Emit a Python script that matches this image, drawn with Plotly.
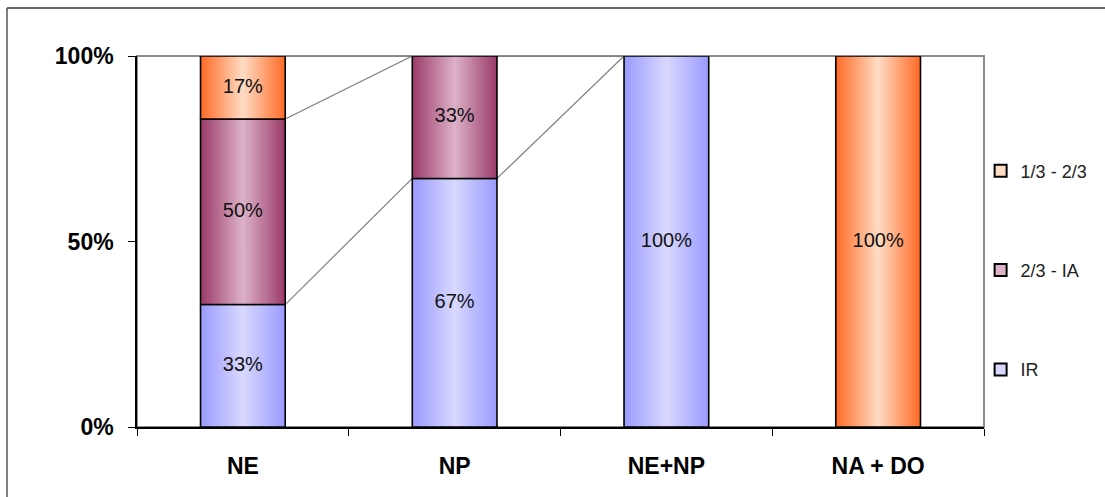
import plotly.graph_objects as go

# Stacked 100% columns by group
categories = ["NE", "NP", "NE+NP", "NA + DO"]
ir_values = [33, 67, 100, 0]
ia_values = [50, 33, 0, 0]
third_values = [17, 0, 0, 100]
y_tick_values = [0, 50, 100]
y_tick_labels = ["0%", "50%", "100%"]

FONT = "Liberation Sans, Arial, sans-serif"
BAR_W = 0.40

# edge colour, centre colour for each series
palette = {
    "IR": ("#9a9aff", "#d8d8ff"),
    "2/3 - IA": ("#9a3a68", "#ddb2c8"),
    "1/3 - 2/3": ("#ff6a26", "#ffdcc4"),
}
stack = [("IR", ir_values), ("2/3 - IA", ia_values), ("1/3 - 2/3", third_values)]

fig = go.Figure()

# series lines joining the cumulative tops of each series between neighbouring columns
cum = [0] * len(categories)
tops = []
for name, vals in stack:
    cum = [c + v for c, v in zip(cum, vals)]
    tops.append(list(cum))
for top in tops:
    for i in range(2):
        fig.add_trace(go.Scatter(
            x=[i + BAR_W / 2, i + 1 - BAR_W / 2], y=[top[i], top[i + 1]],
            mode="lines", line=dict(color="#7f7f7f", width=1.2),
            showlegend=False, hoverinfo="skip"))

# gradient-filled column segments
base = [0] * len(categories)
for name, vals in stack:
    edge, mid = palette[name]
    for i, v in enumerate(vals):
        if v <= 0:
            continue
        b, t = base[i], base[i] + v
        x0, x1 = i - BAR_W / 2, i + BAR_W / 2
        fig.add_trace(go.Scatter(
            x=[x0, x1, x1, x0, x0], y=[b, b, t, t, b],
            mode="lines", fill="toself",
            fillgradient=dict(type="horizontal",
                              colorscale=[[0, edge], [0.5, mid], [1, edge]]),
            line=dict(color="#000000", width=1.6),
            showlegend=False, hoverinfo="skip"))
        fig.add_trace(go.Scatter(
            x=[i], y=[b + v / 2], mode="text", text=[f"{v}%"],
            textfont=dict(family=FONT, size=20, color="#111111"),
            showlegend=False, hoverinfo="skip"))
    base = [b + v for b, v in zip(base, vals)]

# legend entries (top to bottom)
for name in ["1/3 - 2/3", "2/3 - IA", "IR"]:
    edge, mid = palette[name]
    fig.add_trace(go.Scatter(
        x=[None], y=[None], mode="markers", name=name, legendgroup=name,
        marker=dict(symbol="square", size=9, color=mid,
                    line=dict(color="#000000", width=1.6))))

# plot-area border and outer chart frame
fig.add_shape(type="rect", xref="paper", yref="paper", x0=0, x1=1, y0=0, y1=1,
              line=dict(color="#8c8c8c", width=2), layer="below")
fig.add_shape(type="line", xref="paper", yref="paper",
              x0=-0.1535, x1=1.2, y0=1.1294, y1=1.1294,
              line=dict(color="#333333", width=1.5))
fig.add_shape(type="line", xref="paper", yref="paper",
              x0=-0.1535, x1=-0.1535, y0=1.1294, y1=-0.2,
              line=dict(color="#555555", width=1.5))

fig.update_layout(
    width=1105, height=497,
    margin=dict(l=137, r=121, t=56, b=70, autoexpand=False),
    paper_bgcolor="white", plot_bgcolor="white",
    font=dict(family=FONT, color="#000000"),
    showlegend=True,
    legend=dict(x=0.996, xanchor="left", y=0.74, yanchor="top",
                traceorder="grouped", tracegroupgap=73,
                itemwidth=30,
                font=dict(family=FONT, size=18, color="#222222"),
                itemsizing="constant", bgcolor="rgba(0,0,0,0)"),
    xaxis=dict(range=[-0.5, 3.5], tickvals=list(range(len(categories))),
               ticktext=categories, showgrid=False, zeroline=False,
               showline=True, linecolor="#000000", linewidth=1.5,
               ticks="", ticklabelstandoff=18,
               minor=dict(tickvals=[-0.5, 0.5, 1.5, 2.5, 3.5], ticks="outside",
                          ticklen=7, tickcolor="#000000", tickwidth=1.2),
               tickfont=dict(family=FONT, size=23, color="#000000", weight="bold")),
    yaxis=dict(range=[0, 100], tickvals=y_tick_values, ticktext=y_tick_labels,
               showgrid=False, zeroline=False, showline=True,
               linecolor="#000000", linewidth=1.5, ticks="outside",
               ticklen=7, tickcolor="#000000", tickwidth=1.2,
               ticklabelstandoff=10,
               tickfont=dict(family=FONT, size=23, color="#000000", weight="bold")),
)

fig.write_html("out.html")
